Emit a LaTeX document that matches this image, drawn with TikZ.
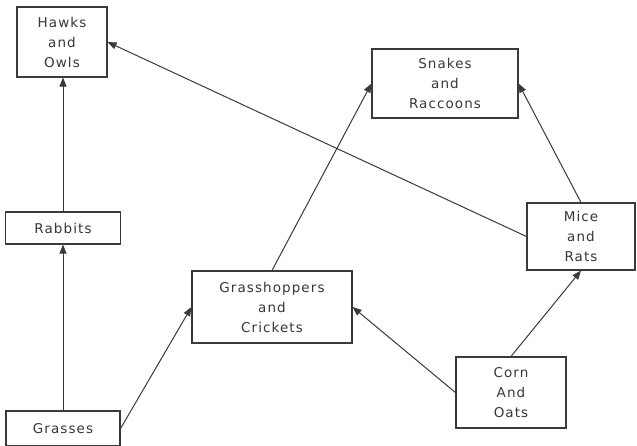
\documentclass[tikz,border=0pt]{standalone}
\usepackage{fontspec}
\newfontfamily\lbl[LetterSpace=8]{DejaVu Sans}
\usetikzlibrary{arrows.meta}
\definecolor{ink}{HTML}{3A3A3A}
\definecolor{txt}{HTML}{383838}
\tikzset{
  box/.style={draw=ink, line width=1.1pt, fill=white, inner sep=0pt, align=center,
    text=txt, font=\lbl\fontsize{13.5}{20}\selectfont},
  link/.style={draw=ink, line width=1pt, -{Triangle[length=9pt,width=7pt]}}
}
\begin{document}
\begin{tikzpicture}[x=1pt,y=-1pt]
\useasboundingbox[fill=white] (0,0) rectangle (637,445);
\node[box, minimum width=90pt, minimum height=70pt] (hawks) at (62,42) {Hawks\\and\\Owls};
\node[box, minimum width=146pt, minimum height=69pt] (snakes) at (445,83.5) {Snakes\\and\\Raccoons};
\node[box, minimum width=115pt, minimum height=32pt] (rabbits) at (63,228) {Rabbits};
\node[box, minimum width=108pt, minimum height=67pt] (mice) at (581,236.5) {Mice\\and\\Rats};
\node[box, minimum width=160pt, minimum height=72pt] (grasshoppers) at (272,307) {Grasshoppers\\and\\Crickets};
\node[box, minimum width=110pt, minimum height=71pt] (corn) at (511,392.5) {Corn\\And\\Oats};
\node[box, minimum width=114pt, minimum height=35pt] (grasses) at (63,428.5) {Grasses};
\draw[link] (grasses.north) -- (grasses.north |- rabbits.south);
\draw[link] (rabbits.north) -- (rabbits.north |- hawks.south);
\draw[link] (grasses.east) -- (grasshoppers.west);
\draw[link] (grasshoppers.north) -- (snakes.west);
\draw[link] (corn.west) -- (grasshoppers.east);
\draw[link] (corn.north) -- (mice.south);
\draw[link] (mice.north) -- (snakes.east);
\draw[link] (mice.west) -- (hawks.east);
\end{tikzpicture}
\end{document}
